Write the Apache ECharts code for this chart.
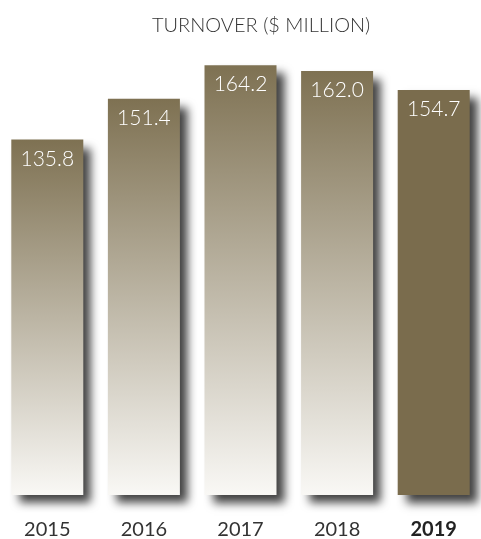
<!DOCTYPE html>
<html>
<head>
<meta charset="utf-8">
<script src="https://cdn.jsdelivr.net/npm/echarts@6/dist/echarts.min.js"></script>
<style>
  html, body { margin: 0; padding: 0; background: #fff; }
  #chart { width: 481px; height: 539px; }
</style>
</head>
<body>
<div id="chart"></div>
<script>
const years = ["2015", "2016", "2017", "2018", "2019"];
const turnover = [135.8, 151.4, 164.2, 162.0, 154.7];

const fadeColor = {
  type: "linear", x: 0, y: 0, x2: 0, y2: 1,
  colorStops: [
    { offset: 0, color: "#7e7152" },
    { offset: 1, color: "#f9f8f5" }
  ]
};

const barData = turnover.map((v, i) => ({
  value: v,
  itemStyle: { color: i === turnover.length - 1 ? "#7a6c4d" : fadeColor }
}));

const chart = echarts.init(document.getElementById("chart"));
chart.setOption({
  animation: false,
  title: {
    text: "TURNOVER ($ MILLION)",
    left: 147,
    top: 11,
    textStyle: { fontFamily: "Lato", fontWeight: 300, fontSize: 20, color: "#333" }
  },
  grid: { left: -1, right: -1, top: 50, bottom: 44, outerBoundsMode: "none" },
  xAxis: {
    type: "category",
    data: years,
    axisLine: { show: false },
    axisTick: { show: false },
    axisLabel: {
      interval: 0,
      margin: 25,
      fontFamily: "Lato",
      fontSize: 20,
      color: "#333",
      formatter: (v) => v === "2019" ? "{b|" + v + "}" : v,
      rich: { b: { fontFamily: "Lato", fontSize: 20, fontWeight: "bold", color: "#222" } }
    }
  },
  yAxis: {
    type: "value",
    min: 0,
    max: 170,
    show: false,
    splitLine: { show: false }
  },
  series: [{
    type: "bar",
    data: barData,
    barWidth: 72,
    itemStyle: {
      shadowColor: "rgba(0,0,0,0.75)",
      shadowBlur: 9,
      shadowOffsetX: 8,
      shadowOffsetY: 8
    },
    label: {
      show: true,
      position: "insideTop",
      distance: 9,
      fontFamily: "Lato",
      fontWeight: 300,
      fontSize: 21,
      color: "#fff",
      formatter: (p) => p.value.toFixed(1)
    }
  }]
});
</script>
</body>
</html>
